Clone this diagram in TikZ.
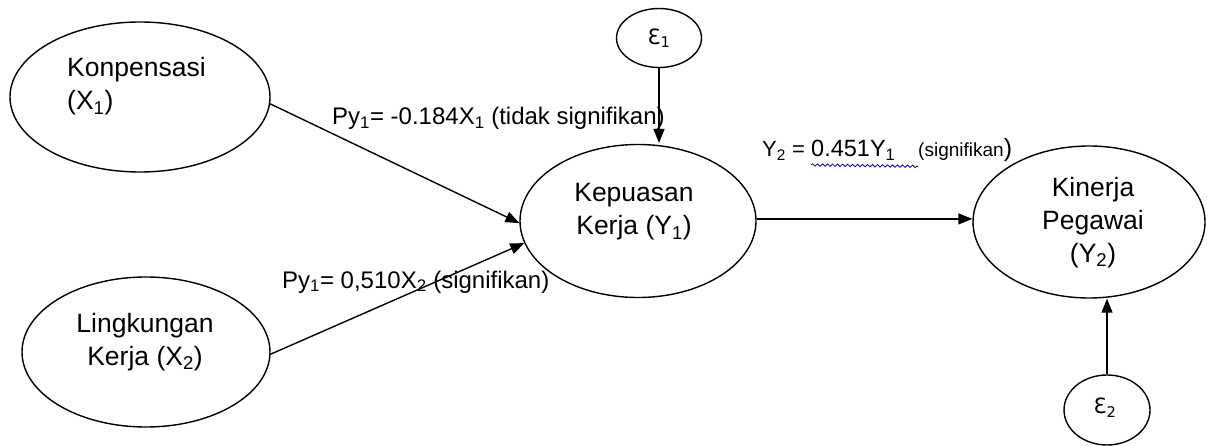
\documentclass[tikz,border=0pt]{standalone}
\usepackage{fontspec}
\setmainfont{Liberation Sans}
\newfontfamily\epsfont{DejaVu Sans}
\usetikzlibrary{shapes.geometric,arrows.meta,decorations.pathmorphing,calc}
\begin{document}
\begin{tikzpicture}[x=1pt,y=-1pt,
  oval/.style={draw,ellipse,line width=1.4pt,inner sep=0pt},
  txt/.style={inner sep=0pt,font=\fontsize{26.5}{33}\selectfont,anchor=base},
  lbl/.style={inner sep=0pt,font=\fontsize{24}{28}\selectfont,anchor=base west},
  conn/.style={line width=1.4pt,-{Triangle[length=14pt,width=11pt]}},
  wavy/.style={draw=blue!70!black,line width=0.8pt,decorate,decoration={snake,amplitude=1.2pt,segment length=5pt}}]
\useasboundingbox (0,0) rectangle (1209,446);
% ovals
\node[oval,minimum width=260pt,minimum height=150pt] (x1) at (140,97) {};
\node[oval,minimum width=248pt,minimum height=150pt] (x2) at (146,352) {};
\node[oval,minimum width=236pt,minimum height=153pt] (kp) at (638,221) {};
\node[oval,minimum width=232pt,minimum height=152pt] (ki) at (1089,222) {};
\node[oval,minimum width=85pt,minimum height=59pt] (e1) at (659,38) {};
\node[oval,minimum width=86pt,minimum height=70pt] (e2) at (1107,410) {};
% texts in ovals
\node[txt,align=left,anchor=base west] (t1) at (67,110) {Konpensasi\\(X\textsubscript{1})};
\node[txt,align=center] (t2) at (145,365) {Lingkungan\\Kerja (X\textsubscript{2})};
\node[txt,align=center] (t3) at (634,235) {Kepuasan\\Kerja (Y\textsubscript{1})};
\node[txt,align=center] (t4) at (1093,262) {Kinerja\\Pegawai\\(Y\textsubscript{2})};
\node[inner sep=0pt,font=\epsfont\fontsize{21}{24}\selectfont] (te1) at (e1.center) {Ɛ\textsubscript{1}};
\node[inner sep=0pt,font=\epsfont\fontsize{21}{24}\selectfont] (te2) at ($(e2.center)+(-2,-2)$) {Ɛ\textsubscript{2}};
% connectors
\coordinate (c1) at (659,143);
\draw[conn] (x1.-3) -- (kp.181);
\draw[conn] (x2.-1) -- (kp.191);
\draw[conn] (kp.1) -- (kp.1 -| ki.west);
\draw[conn] (e1.south) -- (c1);
\draw[conn] (e2.north) -- (ki.south -| e2.north);
% labels
\node[lbl] (l1) at (332,125) {Py\textsubscript{1}= -0.184X\textsubscript{1} (tidak signifikan)};
\node[lbl] (l2) at (282,288) {Py\textsubscript{1}= 0,510X\textsubscript{2} (signifikan)};
\node[lbl,font=\fontsize{22}{26}\selectfont] (l3a) at (762,157) {Y\textsubscript{2} = };
\node[lbl,font=\fontsize{23.5}{26}\selectfont] (l3b) at (811,157) {0.451Y\textsubscript{1}};
\node[lbl,font=\fontsize{19}{22}\selectfont] (l3c) at (918,157) {(signifikan\fontsize{25}{25}\selectfont)};
\draw[wavy] ($(l3b.south west)+(0,4)$) -- ($(l3c.south west)+(0,4)$);
\end{tikzpicture}
\end{document}
